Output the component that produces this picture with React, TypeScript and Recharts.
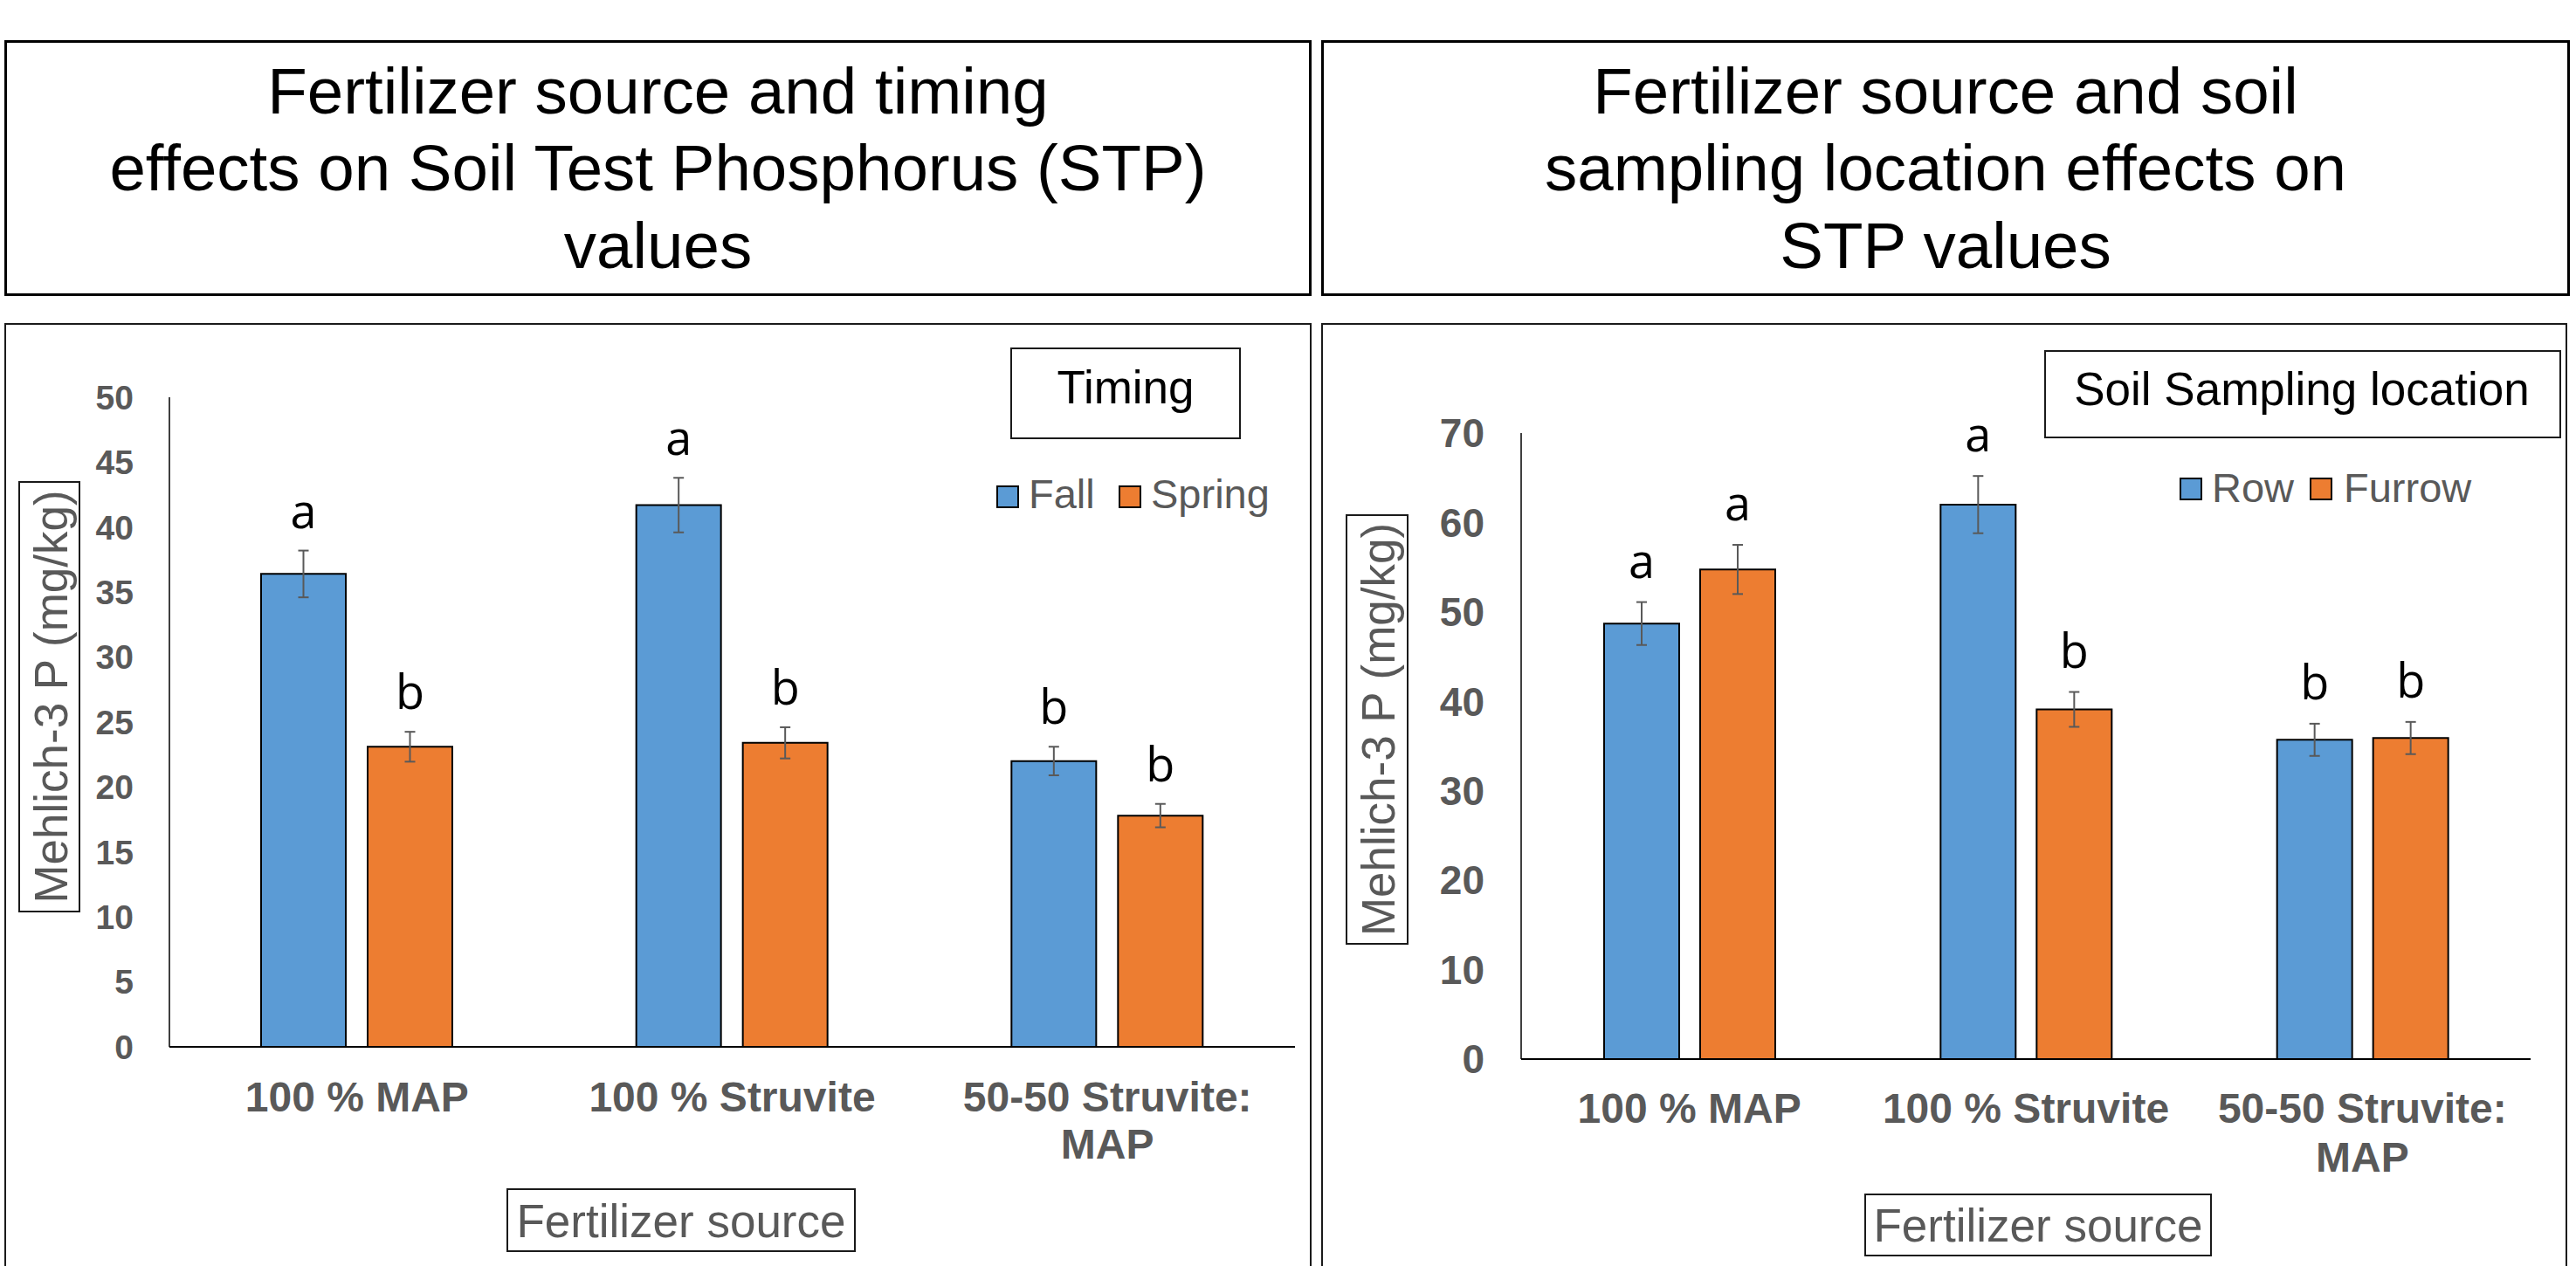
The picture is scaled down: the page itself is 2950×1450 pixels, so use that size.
import React from 'react';
import { BarChart, Bar, XAxis, YAxis, ErrorBar, LabelList } from 'recharts';

// ---------- data ----------
const sources = ['100 % MAP', '100 % Struvite', '50-50 Struvite: MAP'];
const sourceLines = [['100 % MAP'], ['100 % Struvite'], ['50-50 Struvite:', 'MAP']];

const fallValues = [36.4, 41.7, 22.0];
const fallErrors = [1.8, 2.1, 1.1];
const fallLetters = ['a', 'a', 'b'];
const springValues = [23.1, 23.4, 17.8];
const springErrors = [1.15, 1.2, 0.9];
const springLetters = ['b', 'b', 'b'];

const rowValues = [48.7, 62.0, 35.7];
const rowErrors = [2.4, 3.2, 1.8];
const rowLetters = ['a', 'a', 'b'];
const furrowValues = [54.75, 39.1, 35.9];
const furrowErrors = [2.75, 1.95, 1.8];
const furrowLetters = ['a', 'b', 'b'];

const timingTicks = [0, 5, 10, 15, 20, 25, 30, 35, 40, 45, 50];
const locationTicks = [0, 10, 20, 30, 40, 50, 60, 70];

const timingSeries = ['Fall', 'Spring'];
const locationSeries = ['Row', 'Furrow'];

const leftTitle = ['Fertilizer source and timing', 'effects on Soil Test Phosphorus (STP)', 'values'];
const rightTitle = ['Fertilizer source and soil', 'sampling location effects on', 'STP values'];

const BLUE = '#5B9BD5';
const ORANGE = '#ED7D31';
const GRAY = '#595959';
const SANS = '"Liberation Sans", Arial, sans-serif';
const LETTER_FONT = '"Open Sans", "Noto Sans", sans-serif';

const timingData = sources.map((s, i) => ({
  source: s,
  fall: fallValues[i],
  fallErr: fallErrors[i],
  spring: springValues[i],
  springErr: springErrors[i],
}));

const locationData = sources.map((s, i) => ({
  source: s,
  row: rowValues[i],
  rowErr: rowErrors[i],
  furrow: furrowValues[i],
  furrowErr: furrowErrors[i],
}));

// ---------- helpers ----------
function sigLabel(values: number[], errors: number[], letters: string[], gap: number) {
  return (props: any) => {
    const vb = props.viewBox || {};
    const x = Number(props.x ?? vb.x);
    const y = Number(props.y ?? vb.y);
    const width = Number(props.width ?? vb.width);
    const height = Number(props.height ?? vb.height);
    const index = props.index;
    const v = values[index];
    const e = errors[index];
    const top = y - (e * height) / v;
    return (
      <text
        x={x + width / 2}
        y={top - gap}
        textAnchor="middle"
        fontFamily={LETTER_FONT}
        fontSize={54}
        fill="#000"
      >
        {letters[index]}
      </text>
    );
  };
}

function sourceTick(offset: number, lineGap: number) {
  return (props: any) => {
    const { x, y } = props;
    const idx = props.payload?.index ?? props.index ?? 0;
    const lines = sourceLines[idx] || [String(props.payload?.value ?? '')];
    return (
      <text
        x={x}
        y={y + offset}
        textAnchor="middle"
        fontFamily={SANS}
        fontWeight="bold"
        fontSize={48}
        fill={GRAY}
      >
        {lines.map((l, i) => (
          <tspan key={i} x={x} dy={i === 0 ? 0 : lineGap}>
            {l}
          </tspan>
        ))}
      </text>
    );
  };
}

function TitleBox({ x, y, w, h, lines }: { x: number; y: number; w: number; h: number; lines: string[] }) {
  const baselines = [130, 218, 307];
  return (
    <g>
      <rect x={x} y={y} width={w} height={h} fill="none" stroke="#000" strokeWidth={3} />
      {lines.map((l, i) => (
        <text key={i} x={x + w / 2} y={baselines[i]} textAnchor="middle" fontFamily={SANS} fontSize={74.5} fill="#000">
          {l}
        </text>
      ))}
    </g>
  );
}

function Legend({ items, colors, rectX, textX, rectY, baseY }: any) {
  return (
    <g>
      {items.map((it: string, i: number) => (
        <g key={it}>
          <rect x={rectX[i]} y={rectY} width={24} height={24} fill={colors[i]} stroke="#000" strokeWidth={2} />
          <text x={textX[i]} y={baseY} fontFamily={SANS} fontSize={47} fill={GRAY}>
            {it}
          </text>
        </g>
      ))}
    </g>
  );
}

function Overlay() {
  return (
    <svg width={2950} height={1450} style={{ position: 'absolute', left: 0, top: 0 }}>
      <TitleBox x={6.5} y={47.5} w={1494} h={290} lines={leftTitle} />
      <TitleBox x={1514.5} y={47.5} w={1427} h={290} lines={rightTitle} />

      {/* panel boxes */}
      <rect x={6} y={371} width={1495} height={1200} fill="none" stroke="#1a1a1a" strokeWidth={2} />
      <rect x={1514} y={371} width={1425} height={1200} fill="none" stroke="#1a1a1a" strokeWidth={2} />

      {/* legend title boxes */}
      <rect x={1158} y={399} width={262} height={103} fill="none" stroke="#1a1a1a" strokeWidth={2} />
      <text x={1289} y={462} textAnchor="middle" fontFamily={SANS} fontSize={53} fill="#000">Timing</text>
      <rect x={2342} y={402} width={590} height={99} fill="none" stroke="#1a1a1a" strokeWidth={2} />
      <text x={2636} y={464} textAnchor="middle" fontFamily={SANS} fontSize={53} fill="#000">Soil Sampling location</text>

      <Legend items={timingSeries} colors={[BLUE, ORANGE]} rectX={[1142, 1282]} textX={[1178, 1318]} rectY={557} baseY={582} />
      <Legend items={locationSeries} colors={[BLUE, ORANGE]} rectX={[2497, 2646]} textX={[2533, 2684]} rectY={548} baseY={575} />

      {/* y label boxes */}
      <rect x={22} y={552} width={69} height={492} fill="none" stroke="#1a1a1a" strokeWidth={2} />
      <text transform="translate(77,798) rotate(-90)" textAnchor="middle" fontFamily={SANS} fontSize={53} fill={GRAY}>
        Mehlich-3 P (mg/kg)
      </text>
      <rect x={1542} y={590} width={70} height={491} fill="none" stroke="#1a1a1a" strokeWidth={2} />
      <text transform="translate(1597,835.5) rotate(-90)" textAnchor="middle" fontFamily={SANS} fontSize={53} fill={GRAY}>
        Mehlich-3 P (mg/kg)
      </text>

      {/* x label boxes */}
      <rect x={581} y={1362} width={398} height={71} fill="none" stroke="#1a1a1a" strokeWidth={2} />
      <text x={780} y={1417} textAnchor="middle" fontFamily={SANS} fontSize={53} fill={GRAY}>Fertilizer source</text>
      <rect x={2136} y={1368} width={396} height={70} fill="none" stroke="#1a1a1a" strokeWidth={2} />
      <text x={2334} y={1422} textAnchor="middle" fontFamily={SANS} fontSize={53} fill={GRAY}>Fertilizer source</text>
    </svg>
  );
}

export default function App() {
  return (
    <div
      style={{
        position: 'absolute',
        left: 0,
        top: 0,
        width: 2950,
        height: 1450,
        background: '#fff',
        overflow: 'hidden',
      }}
    >
      <Overlay />

      <div style={{ position: 'absolute', left: 0, top: 370 }}>
        <BarChart
          width={1500}
          height={1080}
          data={timingData}
          margin={{ top: 85, right: 17, left: 44, bottom: 101 }}
          barGap={25}
          barSize={97}
        >
          <XAxis
            dataKey="source"
            height={150}
            axisLine={{ stroke: '#000', strokeWidth: 2 }}
            tickLine={false}
            tickSize={0}
            tickMargin={0}
            interval={0}
            tick={sourceTick(74, 54)}
          />
          <YAxis
            width={150}
            domain={[0, 50]}
            ticks={timingTicks}
            interval={0}
            axisLine={{ stroke: '#000', strokeWidth: 1.5 }}
            tickLine={false}
            tickSize={0}
            tickMargin={41}
            tick={{ fill: GRAY, fontSize: 39, fontWeight: 'bold', fontFamily: SANS }}
          />
          <Bar dataKey="fall" fill={BLUE} stroke="#000" strokeWidth={2} isAnimationActive={false}>
            <ErrorBar dataKey="fallErr" width={6} stroke={GRAY} strokeWidth={2} isAnimationActive={false} />
            <LabelList dataKey="fall" content={sigLabel(fallValues, fallErrors, fallLetters, 26)} />
          </Bar>
          <Bar dataKey="spring" fill={ORANGE} stroke="#000" strokeWidth={2} isAnimationActive={false}>
            <ErrorBar dataKey="springErr" width={6} stroke={GRAY} strokeWidth={2} isAnimationActive={false} />
            <LabelList dataKey="spring" content={sigLabel(springValues, springErrors, springLetters, 26)} />
          </Bar>
        </BarChart>
      </div>

      <div style={{ position: 'absolute', left: 1513, top: 370 }}>
        <BarChart
          width={1430}
          height={1080}
          data={locationData}
          margin={{ top: 126, right: 45, left: 79, bottom: 87 }}
          barGap={24}
          barSize={86}
        >
          <XAxis
            dataKey="source"
            height={150}
            axisLine={{ stroke: '#000', strokeWidth: 2 }}
            tickLine={false}
            tickSize={0}
            tickMargin={0}
            interval={0}
            tick={sourceTick(73, 56)}
          />
          <YAxis
            width={150}
            domain={[0, 70]}
            ticks={locationTicks}
            interval={0}
            axisLine={{ stroke: '#000', strokeWidth: 1.5 }}
            tickLine={false}
            tickSize={0}
            tickMargin={42}
            tick={{ fill: GRAY, fontSize: 46, fontWeight: 'bold', fontFamily: SANS }}
          />
          <Bar dataKey="row" fill={BLUE} stroke="#000" strokeWidth={2} isAnimationActive={false}>
            <ErrorBar dataKey="rowErr" width={6} stroke={GRAY} strokeWidth={2} isAnimationActive={false} />
            <LabelList dataKey="row" content={sigLabel(rowValues, rowErrors, rowLetters, 28)} />
          </Bar>
          <Bar dataKey="furrow" fill={ORANGE} stroke="#000" strokeWidth={2} isAnimationActive={false}>
            <ErrorBar dataKey="furrowErr" width={6} stroke={GRAY} strokeWidth={2} isAnimationActive={false} />
            <LabelList dataKey="furrow" content={sigLabel(furrowValues, furrowErrors, furrowLetters, 28)} />
          </Bar>
        </BarChart>
      </div>
    </div>
  );
}
